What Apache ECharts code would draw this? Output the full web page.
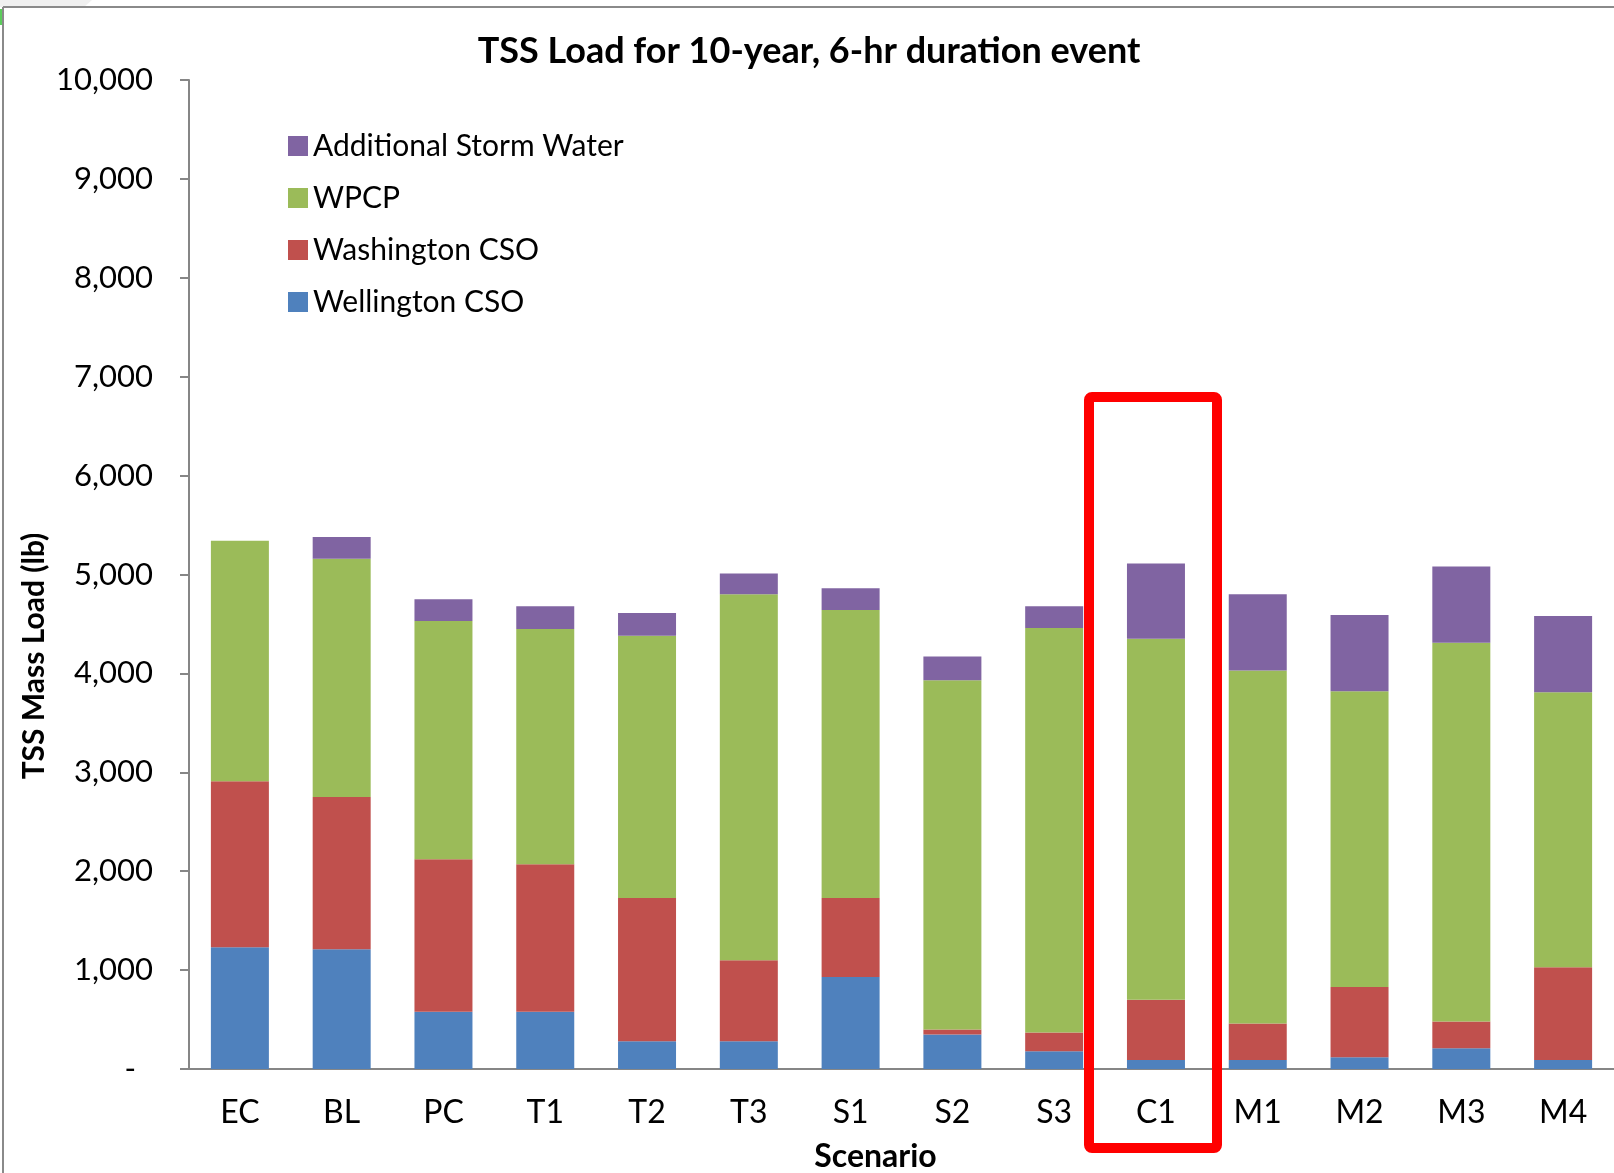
<!DOCTYPE html>
<html>
<head>
<meta charset="utf-8">
<title>TSS Load</title>
<script src="https://cdn.jsdelivr.net/npm/echarts@6.0.0/dist/echarts.min.js"></script>
<style>
  html, body { margin: 0; padding: 0; background: #fff; }
  #chart { width: 1614px; height: 1173px; }
</style>
</head>
<body>
<div id="chart"></div>
<script>
// scenarios along the x axis
var scenarios = ['EC', 'BL', 'PC', 'T1', 'T2', 'T3', 'S1', 'S2', 'S3', 'C1', 'M1', 'M2', 'M3', 'M4']

// TSS load per source (lb)
var wellington = [1230, 1210, 580, 580, 280, 280, 930, 350, 180, 90, 90, 120, 210, 90]
var washington = [1680, 1540, 1540, 1490, 1450, 820, 800, 50, 190, 610, 370, 710, 270, 940]
var wpcp = [2430, 2410, 2410, 2380, 2650, 3700, 2910, 3530, 4090, 3650, 3570, 2990, 3830, 2780]
var additional = [0, 220, 220, 230, 230, 210, 220, 240, 220, 760, 770, 770, 770, 770]

var legendNames = ['Additional Storm Water', 'WPCP', 'Washington CSO', 'Wellington CSO']
var yMax = 10000
var yStep = 1000

var font = 'Lato, "Open Sans", sans-serif'
var axisColor = '#868686'

function barSeries(name, data, color) {
	return {
		name: name,
		type: 'bar',
		stack: 'tss',
		data: data,
		barWidth: 58,
		itemStyle: {
			color: color
		},
		emphasis: {
			disabled: true
		}
	}
}

var chart = echarts.init(document.getElementById('chart'), null, { renderer: 'canvas' })

var option = {
	animation: false,
	backgroundColor: '#fff',
	textStyle: {
		fontFamily: font
	},
	title: {
		text: 'TSS Load for 10-year, 6-hr duration event',
		left: 804,
		textAlign: 'center',
		top: 28,
		textStyle: {
			fontFamily: font,
			fontWeight: 'bold',
			fontSize: 36,
			color: '#000'
		}
	},
	legend: {
		data: legendNames,
		orient: 'vertical',
		left: 283,
		top: 126,
		icon: 'rect',
		itemWidth: 20,
		itemHeight: 20,
		itemGap: 22,
		itemTextGap: 10,
		selectedMode: false,
		textStyle: {
			fontFamily: font,
			fontSize: 30,
			color: '#000'
		}
	},
	grid: {
		left: 189,
		right: 0,
		top: 80,
		bottom: 104,
		containLabel: false,
		outerBoundsMode: 'none'
	},
	xAxis: {
		type: 'category',
		data: scenarios,
		name: 'Scenario',
		nameLocation: 'middle',
		nameGap: 72,
		nameTextStyle: {
			fontFamily: font,
			fontWeight: 'bold',
			fontSize: 32,
			color: '#000',
			padding: [0, 52, 0, 0]
		},
		axisLine: {
			lineStyle: { color: axisColor, width: 2 }
		},
		axisTick: { show: false },
		axisLabel: {
			margin: 28,
			fontFamily: font,
			fontSize: 32,
			color: '#000'
		},
		splitLine: { show: false }
	},
	yAxis: {
		type: 'value',
		min: 0,
		max: yMax,
		interval: yStep,
		axisLine: {
			show: true,
			lineStyle: { color: axisColor, width: 2 }
		},
		axisTick: {
			show: true,
			length: 9,
			lineStyle: { color: axisColor, width: 2 }
		},
		axisLabel: {
			margin: 36,
			fontFamily: font,
			fontSize: 31,
			color: '#000',
			formatter: function (v) {
				if (v === 0) return '{z|-}'
				return v.toLocaleString('en-US')
			},
			rich: {
				z: {
					fontFamily: font,
					fontSize: 31,
					color: '#000',
					padding: [0, 17, 0, 0]
				}
			}
		},
		splitLine: { show: false }
	},
	series: [
		barSeries('Wellington CSO', wellington, '#4F81BD'),
		barSeries('Washington CSO', washington, '#C0504D'),
		barSeries('WPCP', wpcp, '#9BBB59'),
		barSeries('Additional Storm Water', additional, '#8064A2')
	],
	graphic: [
		// frame of the pasted picture
		{
			type: 'polygon',
			silent: true,
			shape: { points: [[0, 0], [92, 0], [84, 7], [0, 7]] },
			style: { fill: '#f0f0f0' }
		},
		{
			type: 'rect',
			silent: true,
			shape: { x: 0, y: 9, width: 3, height: 16 },
			style: { fill: '#5ccc5c' }
		},
		{
			type: 'line',
			silent: true,
			shape: { x1: 3, y1: 7, x2: 1614, y2: 7 },
			style: { stroke: '#8a8a8a', lineWidth: 2 }
		},
		{
			type: 'line',
			silent: true,
			shape: { x1: 3, y1: 7, x2: 3, y2: 1173 },
			style: { stroke: '#8a8a8a', lineWidth: 2 }
		},
		// y axis name
		{
			type: 'text',
			silent: true,
			x: 34,
			y: 656,
			rotation: Math.PI / 2,
			style: {
				text: 'TSS Mass Load (lb)',
				fontFamily: font,
				fontWeight: 'bold',
				fontSize: 30,
				fill: '#000',
				align: 'center',
				verticalAlign: 'middle'
			}
		},
		// highlight box round C1
		{
			type: 'rect',
			silent: true,
			z: 100,
			shape: { x: 1089, y: 397, width: 128, height: 751, r: 3 },
			style: { fill: 'none', stroke: '#ff0000', lineWidth: 10 }
		}
	]
}

chart.setOption(option)
</script>
</body>
</html>
